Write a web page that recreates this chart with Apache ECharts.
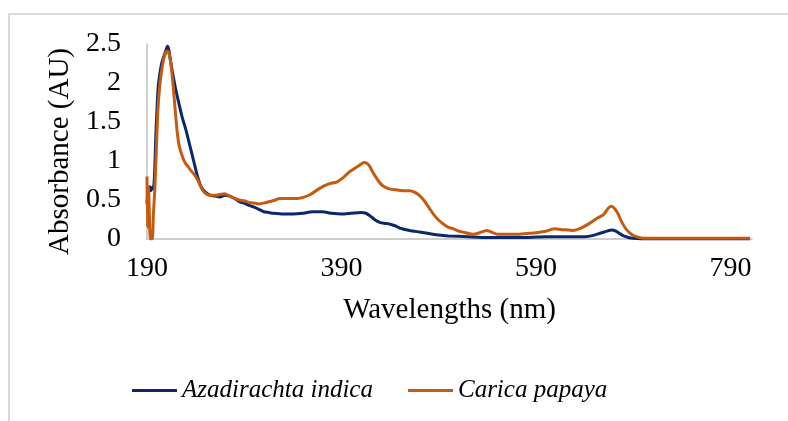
<!DOCTYPE html>
<html>
<head>
<meta charset="utf-8">
<script src="https://cdn.jsdelivr.net/npm/echarts@6/dist/echarts.min.js"></script>
<style>
  html, body { margin: 0; padding: 0; background: #fff; }
  #chart { width: 788px; height: 421px; }
</style>
</head>
<body>
<div id="chart"></div>
<script>
// wavelength ticks
const xTicks = [190, 390, 590, 790];
const yTicks = [0, 0.5, 1, 1.5, 2, 2.5];

// Azadirachta indica
const azaNm = [190, 191, 192, 193, 194, 195, 196, 197, 198, 199, 200, 201.5, 203, 205, 207, 209, 211, 212.5, 214, 216, 219, 222, 226, 230, 234, 238, 242, 246, 250, 255, 260, 265, 270, 275, 280, 285, 290, 295, 300, 305, 310, 315, 320, 330, 340, 350, 360, 370, 380, 390, 400, 410, 415, 420, 425, 430, 435, 440, 445, 450, 460, 470, 480, 490, 500, 520, 540, 560, 580, 600, 620, 640, 650, 655, 660, 665, 668, 672, 676, 680, 685, 690, 700, 720, 750, 780, 810];
const azaAbs = [0.45, 0.66, 0.6, 0.67, 0.62, 0.66, 0.64, 0.68, 0.9, 1.3, 1.6, 1.95, 2.1, 2.25, 2.33, 2.4, 2.47, 2.42, 2.3, 2.15, 1.95, 1.78, 1.57, 1.4, 1.2, 1.0, 0.8, 0.66, 0.6, 0.56, 0.55, 0.54, 0.56, 0.55, 0.52, 0.48, 0.46, 0.43, 0.41, 0.38, 0.35, 0.34, 0.33, 0.32, 0.32, 0.33, 0.35, 0.35, 0.33, 0.32, 0.33, 0.34, 0.33, 0.29, 0.24, 0.21, 0.2, 0.19, 0.17, 0.14, 0.11, 0.09, 0.07, 0.05, 0.04, 0.03, 0.02, 0.02, 0.02, 0.03, 0.03, 0.03, 0.05, 0.07, 0.09, 0.11, 0.115, 0.1, 0.07, 0.04, 0.02, 0.01, 0, 0, 0, 0, 0];

// Carica papaya
const papNm = [190, 190.5, 191.5, 192.5, 193.5, 195.5, 196.5, 198, 199.5, 201, 203, 205, 207, 209, 210.5, 212, 213.5, 215, 217, 219, 221, 223, 226, 229, 232, 235, 239, 242, 245, 248, 252, 256, 260, 265, 270, 275, 280, 285, 290, 295, 300, 305, 310, 316, 322, 326, 335, 345, 352, 358, 365, 372, 378, 385, 392, 398, 404, 409, 413, 416, 419, 422, 426, 430, 434, 440, 446, 453, 460, 465, 470, 475, 480, 485, 490, 495, 500, 505, 511, 518, 525, 532, 539, 544, 550, 560, 570, 580, 590, 600, 609, 618, 628, 636, 645, 652, 659, 664, 667, 670, 674, 678, 683, 688, 693, 700, 720, 750, 780, 810];
const papAbs = [0.8, 0.15, 0.67, 0.3, 0, 0, 0.3, 0.63, 1.1, 1.61, 1.95, 2.15, 2.3, 2.38, 2.41, 2.4, 2.33, 2.2, 1.95, 1.65, 1.38, 1.2, 1.07, 0.98, 0.93, 0.88, 0.82, 0.76, 0.68, 0.61, 0.57, 0.56, 0.56, 0.57, 0.58, 0.55, 0.52, 0.5, 0.49, 0.47, 0.46, 0.45, 0.46, 0.48, 0.5, 0.52, 0.52, 0.52, 0.54, 0.57, 0.63, 0.68, 0.71, 0.73, 0.79, 0.86, 0.91, 0.95, 0.98, 0.97, 0.93, 0.86, 0.78, 0.71, 0.67, 0.64, 0.63, 0.62, 0.62, 0.6, 0.56, 0.49, 0.4, 0.31, 0.24, 0.19, 0.15, 0.13, 0.1, 0.08, 0.06, 0.08, 0.11, 0.09, 0.06, 0.06, 0.06, 0.07, 0.08, 0.1, 0.13, 0.12, 0.11, 0.14, 0.2, 0.26, 0.31, 0.39, 0.42, 0.4, 0.33, 0.22, 0.12, 0.06, 0.03, 0.01, 0.01, 0.01, 0.01, 0.01];

const zip = (xs, ys) => xs.map((x, i) => [x, ys[i]]);

const serif = "'Liberation Serif', 'DejaVu Serif', serif";
const chart = echarts.init(document.getElementById("chart"));

const options = {
  animation: false,
  textStyle: { fontFamily: serif, color: "#000" },
  grid: { left: 147, right: 36, top: 44, bottom: 182 },
  // frame of the chart area
  graphic: [
    {
      type: "polyline",
      shape: { points: [[9, 421], [9, 14], [788, 14]] },
      style: { stroke: "#d9d9d9", lineWidth: 2, fill: null },
    },
  ],
  legend: {
    left: 127,
    top: 373,
    itemWidth: 45,
    itemHeight: 3,
    itemGap: 35,
    icon: "rect",
    textStyle: { fontFamily: serif, fontStyle: "italic", fontSize: 25, color: "#000" },
    data: ["Azadirachta indica", "Carica papaya"],
  },
  xAxis: {
    type: "value",
    min: xTicks[0],
    max: 812,
    interval: xTicks[1] - xTicks[0],
    name: "Wavelengths (nm)",
    nameLocation: "middle",
    nameGap: 57,
    nameTextStyle: { fontFamily: serif, fontSize: 29, color: "#000" },
    axisLine: { show: true, lineStyle: { color: "#bfbfbf", width: 1.5 } },
    axisTick: { show: false },
    splitLine: { show: false },
    axisLabel: {
      fontFamily: serif,
      fontSize: 28,
      color: "#000",
      margin: 16,
      showMaxLabel: false,
      formatter: (v) => (xTicks.includes(v) ? String(v) : ""),
    },
  },
  yAxis: {
    type: "value",
    min: yTicks[0],
    max: yTicks[yTicks.length - 1],
    interval: yTicks[1] - yTicks[0],
    name: "Absorbance (AU)",
    nameLocation: "middle",
    nameGap: 66,
    nameTextStyle: { fontFamily: serif, fontSize: 29, color: "#000", padding: [0, 20, 0, 0] },
    axisLine: { show: true, lineStyle: { color: "#bfbfbf", width: 1.5 } },
    axisTick: { show: false },
    splitLine: { show: false },
    axisLabel: { fontFamily: serif, fontSize: 28, color: "#000", margin: 26 },
  },
  series: [
    {
      name: "Azadirachta indica",
      type: "line",
      data: zip(azaNm, azaAbs),
      showSymbol: false,
      smooth: 0.2,
      lineStyle: { color: "#0b2869", width: 3 },
      itemStyle: { color: "#0b2869" },
    },
    {
      name: "Carica papaya",
      type: "line",
      data: zip(papNm, papAbs),
      showSymbol: false,
      smooth: 0.2,
      lineStyle: { color: "#c55a11", width: 3 },
      itemStyle: { color: "#c55a11" },
    },
  ],
};

chart.setOption(options);
</script>
</body>
</html>
